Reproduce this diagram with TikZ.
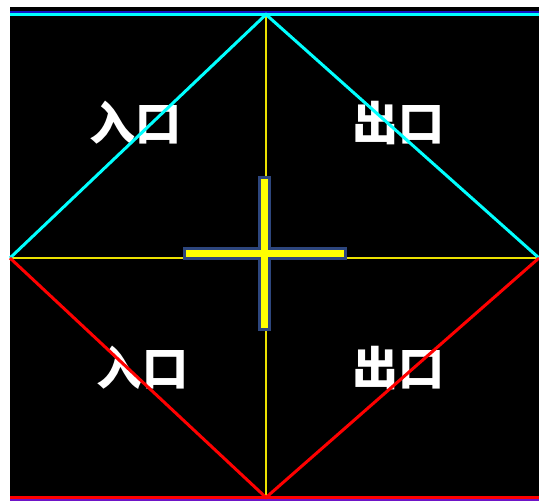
\documentclass[tikz,border=0pt]{standalone}
\usepackage{fontspec}
\newfontfamily\cjk{Noto Sans CJK SC}
\usetikzlibrary{positioning}
\definecolor{crossedge}{RGB}{45,70,125}
\definecolor{topblue}{RGB}{20,20,200}
\definecolor{botpurple}{RGB}{110,20,200}
\definecolor{lightcyan}{RGB}{0,255,255}
\definecolor{purered}{RGB}{255,0,0}
\definecolor{pureyellow}{RGB}{255,255,0}
\definecolor{axisyellow}{RGB}{235,225,0}

\begin{document}
\begin{tikzpicture}[x=1pt, y=-1pt,
  lbl/.style={font=\cjk\bfseries\fontsize{46}{46}\selectfont, text=white, inner sep=0pt},
  cyanedge/.style={draw=lightcyan, line width=3pt},
  rededge/.style={draw=purered, line width=3pt},
  axisline/.style={draw=axisyellow, line width=1.6pt},
  crossbar/.style={draw=crossedge, line width=3pt, fill=pureyellow},
  crossfill/.style={fill=pureyellow}
]

\useasboundingbox (0,0) rectangle (539,501);
\fill[white] (0,0) rectangle (539,501);
\fill[black] (10,7) rectangle (539,501);

\coordinate (vl) at (10,258);
\coordinate (vr) at (539,258);
\coordinate (vt) at (266,14.5);
\coordinate (vb) at (266,497.5);

\node[lbl] (inTop) at (135,123) {入口};
\node[lbl] (outTop) at (398,123) {出口};
\node[lbl] (inBot) at (142,368) {入口};
\node[lbl] (outBot) at (398,368) {出口};

\draw[axisline] (vl) -- (vr);
\draw[axisline] (vt) -- (vb);

\draw[topblue, line width=2pt] (10,12) -- (539,12);
\draw[cyanedge] (10,14.5) -- (539,14.5);
\draw[botpurple, line width=2pt] (10,500) -- (539,500);
\draw[rededge] (10,497.5) -- (539,497.5);

\draw[cyanedge] (vl) -- (vt) -- (vr);
\draw[rededge] (vl) -- (vb) -- (vr);

\draw[crossbar] (259.5,177.5) rectangle (269.5,329.5);
\draw[crossbar] (184.5,248.5) rectangle (345.5,258);
\fill[crossfill] (261,179) rectangle (268,328);
\fill[crossfill] (186,250) rectangle (344,256.5);

\end{tikzpicture}
\end{document}
